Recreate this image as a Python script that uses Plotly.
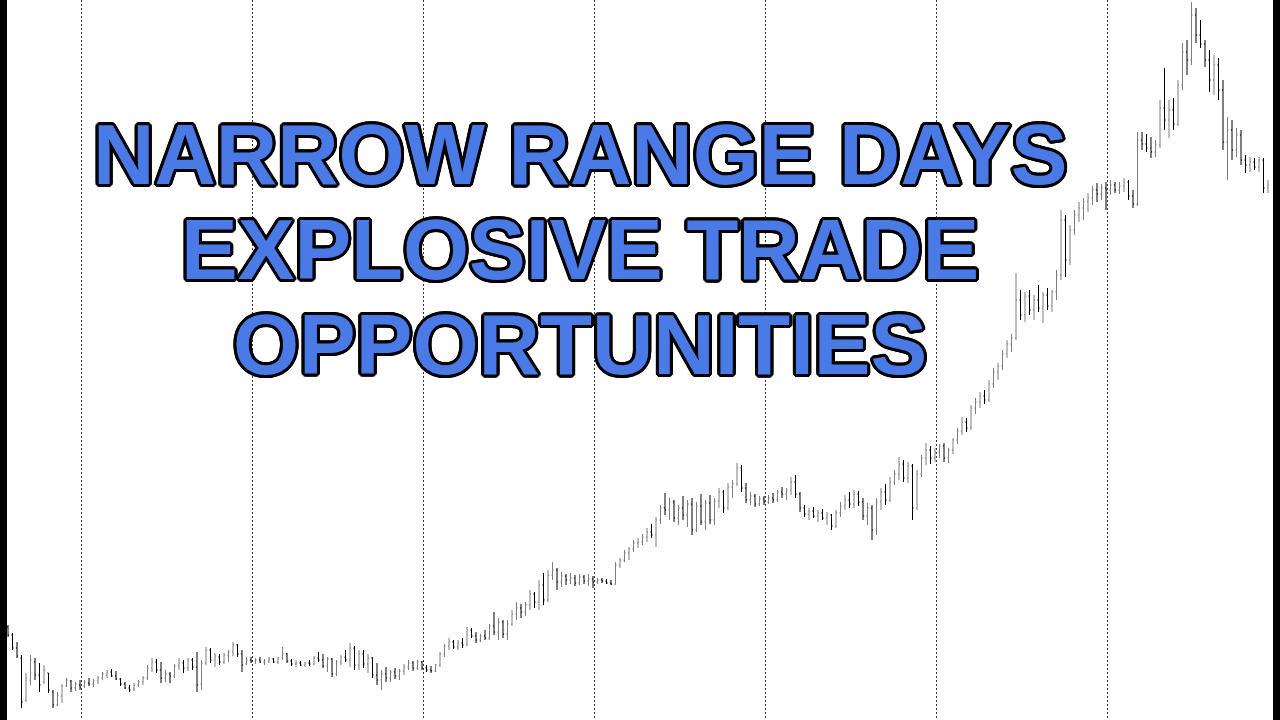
import plotly.graph_objects as go

# Bar index (one bar per session) and OHLC prices (arbitrary price units)
opens = [93,85,72,62,20,40,58,45,38,47,28,15,24,34,39,32,35,34,37,36,
         39,42,45,48,44,41,36,32,31,35,38,42,52,58,50,42,46,44,54,57,
         52,60,53,36,57,70,60,63,58,65,68,75,66,56,60,59,60,58,59,61,
         58,62,66,59,56,57,55,57,56,62,60,54,61,46,58,63,60,72,55,66,
         56,62,45,40,46,42,48,44,49,53,57,52,58,52,50,49,55,66,74,78,
         73,77,75,90,84,80,84,82,94,88,98,86,96,106,112,108,115,126,118,135,
         120,145,150,138,144,140,142,137,143,139,141,138,140,139,137,136,155,160,167,171,
         177,178,183,188,185,200,212,210,218,202,212,205,216,190,214,198,217,200,219,228,
         212,233,236,252,232,220,224,216,221,218,222,220,228,226,230,238,226,212,206,209,
         204,207,202,205,194,207,214,220,216,226,218,204,212,190,218,228,220,238,246,256,
         242,254,212,246,262,270,262,268,274,262,270,280,289,298,292,312,318,324,320,336,
         348,354,366,376,382,420,405,424,410,420,412,425,414,428,445,500,460,490,505,512,
         518,522,530,526,532,530,535,530,534,538,524,516,580,576,572,568,575,612,600,610,
         596,635,668,660,705,685,676,660,640,655,630,578,590,570,585,560,555,558,553,560,
         532]
highs = [95,87,78,65,47,65,62,57,55,47,30,28,36,42,40,38,40,40,42,41,
         44,48,50,51,49,42,38,35,37,40,44,55,62,61,58,50,48,56,62,60,
         62,62,68,60,73,72,67,66,67,70,78,76,70,63,63,62,63,61,63,62,
         63,73,67,61,60,59,58,60,64,68,66,63,62,60,65,70,77,74,70,70,
         66,63,57,50,53,50,52,51,56,60,59,60,59,55,54,56,68,76,82,80,
         80,82,93,92,88,86,90,96,108,102,100,100,110,118,116,118,130,128,140,147,
         150,158,152,148,146,147,145,146,145,146,144,142,142,141,140,158,162,170,173,180,
         182,186,192,196,203,215,227,222,220,215,224,220,222,218,226,220,225,222,232,230,
         237,240,257,255,237,228,226,224,224,225,227,230,233,232,243,245,228,215,212,213,
         210,211,208,206,210,218,225,228,230,229,222,217,215,222,232,236,243,250,263,260,
         258,256,250,265,277,274,272,276,277,272,282,292,303,302,315,322,328,330,340,352,
         357,370,380,386,447,430,428,430,425,435,428,432,430,450,510,505,495,510,518,522,
         527,534,537,536,538,540,538,538,542,540,530,588,588,586,583,580,620,652,620,622,
         640,677,680,718,712,700,680,670,665,662,640,603,600,592,590,565,563,562,563,562,
         540]
lows = [83,70,62,12,18,35,40,28,36,27,12,14,17,33,28,29,30,32,34,33,
        36,40,42,43,40,34,31,28,29,33,35,40,48,47,37,38,37,42,50,47,
        49,50,28,30,55,57,53,55,56,58,64,63,48,55,57,56,57,55,57,57,
        56,60,57,54,53,54,53,54,55,58,52,48,43,44,55,58,53,50,50,52,
        47,42,35,30,38,38,41,40,45,50,49,50,50,48,47,48,53,63,70,71,
        70,72,74,82,77,78,80,80,85,80,82,80,94,100,102,104,110,112,110,115,
        118,140,130,133,135,136,134,135,136,134,132,136,137,136,135,135,152,158,160,168,
        172,175,178,182,173,196,205,200,198,195,200,193,185,188,195,190,196,195,212,207,
        210,222,234,228,217,215,213,214,215,216,217,218,222,220,225,222,208,203,200,202,
        198,200,195,190,192,203,210,212,212,214,200,195,180,185,210,215,218,235,240,238,
        237,200,210,243,255,256,258,262,258,257,266,276,285,288,290,306,312,316,318,332,
        340,350,362,368,380,400,398,405,400,408,397,410,408,420,440,443,455,485,498,500,
        508,515,518,520,510,525,527,526,528,520,512,514,570,568,562,563,572,590,582,590,
        594,630,645,655,677,672,653,628,625,620,570,540,560,563,555,547,548,550,548,527,
        527]
closes = [85,72,64,18,42,60,45,35,50,30,15,25,34,40,32,36,33,38,36,39,
          42,46,48,44,41,36,32,30,35,38,42,52,58,50,42,46,44,54,57,52,
          60,53,35,57,70,60,64,58,65,68,75,66,55,60,59,60,58,59,61,58,
          62,66,59,56,57,55,57,56,62,60,54,61,46,58,63,60,72,55,66,56,
          62,45,40,46,42,48,44,49,53,57,52,58,52,50,49,55,66,74,78,73,
          77,75,90,84,80,84,82,94,88,98,86,96,106,112,108,115,126,118,135,120,
          145,150,138,144,140,142,137,143,139,141,138,140,139,137,136,155,160,167,171,177,
          178,183,188,185,200,212,210,218,202,212,205,216,190,214,198,217,200,219,228,212,
          233,236,252,232,220,224,216,221,218,222,220,228,226,230,238,226,212,206,209,204,
          207,202,205,194,207,214,220,216,226,218,204,212,190,218,228,220,238,246,256,242,
          254,212,246,262,270,262,268,274,262,270,280,289,298,292,312,318,324,320,336,348,
          354,366,376,382,420,405,424,410,420,412,425,414,428,445,500,460,490,505,512,518,
          522,530,526,532,530,535,530,534,538,524,516,580,576,572,568,575,612,600,610,596,
          635,668,660,705,685,676,660,640,655,630,578,590,570,585,560,555,558,553,560,532,
          535]
bars = list(range(len(closes)))

title_lines = ["NARROW RANGE DAYS", "EXPLOSIVE TRADE", "OPPORTUNITIES"]

fig = go.Figure(go.Ohlc(
    x=bars, open=opens, high=highs, low=lows, close=closes,
    increasing=dict(line=dict(color="#7f7f7f", width=1)),
    decreasing=dict(line=dict(color="#000000", width=1)),
    tickwidth=0.25, hoverinfo="skip", showlegend=False,
))

outline = ", ".join(f"{dx}px {dy}px 0 #000" for dx, dy in
                    [(3, 0), (-3, 0), (0, 3), (0, -3), (2, 2), (-2, -2), (2, -2), (-2, 2),
                     (3, 1), (-3, 1), (3, -1), (-3, -1), (1, 3), (-1, 3), (1, -3), (-1, -3)])
line_y = [0.785, 0.653, 0.521]
for txt, yy in zip(title_lines, line_y):
    fig.add_annotation(
        text=txt, x=0.453, y=yy, xref="paper", yref="paper",
        xanchor="center", yanchor="middle", showarrow=False,
        font=dict(family="Liberation Sans, Arial, sans-serif", size=85,
                  color="#4a7ae6", weight="bold", shadow=outline),
    )

fig.update_layout(
    width=1280, height=720,
    margin=dict(l=7, r=7, t=0, b=0),
    paper_bgcolor="#000000", plot_bgcolor="#ffffff",
    hovermode=False,
    xaxis=dict(range=[-0.222, 281.11], rangeslider=dict(visible=False),
               showticklabels=False, ticks="", zeroline=False,
               showgrid=True, gridcolor="#333333", gridwidth=1, griddash="2px,2px",
               tick0=16.222, dtick=38, showline=False),
    yaxis=dict(range=[0, 720], showticklabels=False, ticks="", showgrid=False,
               zeroline=False, showline=False),
)

fig.write_html("out.html", config={"displayModeBar": False},
               post_script="document.body.style.margin='0';document.body.style.overflow='hidden';")
